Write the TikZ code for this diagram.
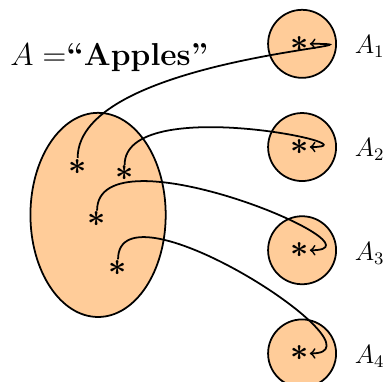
\documentclass[tikz,border=0pt]{standalone}
\usepackage{tikz}
\usetikzlibrary{positioning,shapes.geometric}
\definecolor{peach}{HTML}{FFCC99}
\tikzset{
  blob/.style={draw,thick,fill=peach,ellipse,minimum width=2.16cm,minimum height=3.26cm},
  part/.style={draw,thick,fill=peach,circle,minimum size=1.086cm,inner sep=0pt},
  elem/.style={inner sep=0.3pt,font=\Large\boldmath},
  map/.style={->,thick},
  tag/.style={font=\large,yshift=-1.3pt}
}

\begin{document}
\begin{tikzpicture}[node distance=0.534cm]
  \useasboundingbox (0,0) rectangle (6.18,6.10);
  % the set and its name
  \node[anchor=base west,font=\Large] (title) at (0.04,5.06) {$A=$\textbf{``Apples''}};
  \node[blob] (set) at (1.566,2.668) {};
  % the parts
  \node[part] (c1) at (4.824,5.40) {};
  \node[part,below=of c1] (c2) {};
  \node[part,below=of c2] (c3) {};
  \node[part,below=of c3] (c4) {};
  \node[tag,right=0.16cm of c1] (l1) {$A_1$};
  \node[tag,right=0.16cm of c2] (l2) {$A_2$};
  \node[tag,right=0.16cm of c3] (l3) {$A_3$};
  \node[tag,right=0.16cm of c4] (l4) {$A_4$};
  % elements
  \node[elem] (e1) at (1.24,3.44) {$*$};
  \node[elem] (e2) at (1.99,3.33) {$*$};
  \node[elem] (e3) at (1.55,2.60) {$*$};
  \node[elem] (e4) at (1.885,1.82) {$*$};
  \node[elem] (t1) at ([xshift=-0.04cm]c1.center) {$*$};
  \node[elem] (t2) at ([xshift=-0.04cm]c2.center) {$*$};
  \node[elem] (t3) at ([xshift=-0.04cm]c3.center) {$*$};
  \node[elem] (t4) at ([xshift=-0.04cm]c4.center) {$*$};
  \draw[map] (e1.north) to[out=90,in=0] (t1.east);
  \draw[map] (e2.north) to[out=90,in=0] (t2.east);
  \draw[map] (e3.north) to[out=90,in=0] (t3.east);
  \draw[map] (e4.north) to[out=90,in=0] (t4.east);
\end{tikzpicture}
\end{document}
